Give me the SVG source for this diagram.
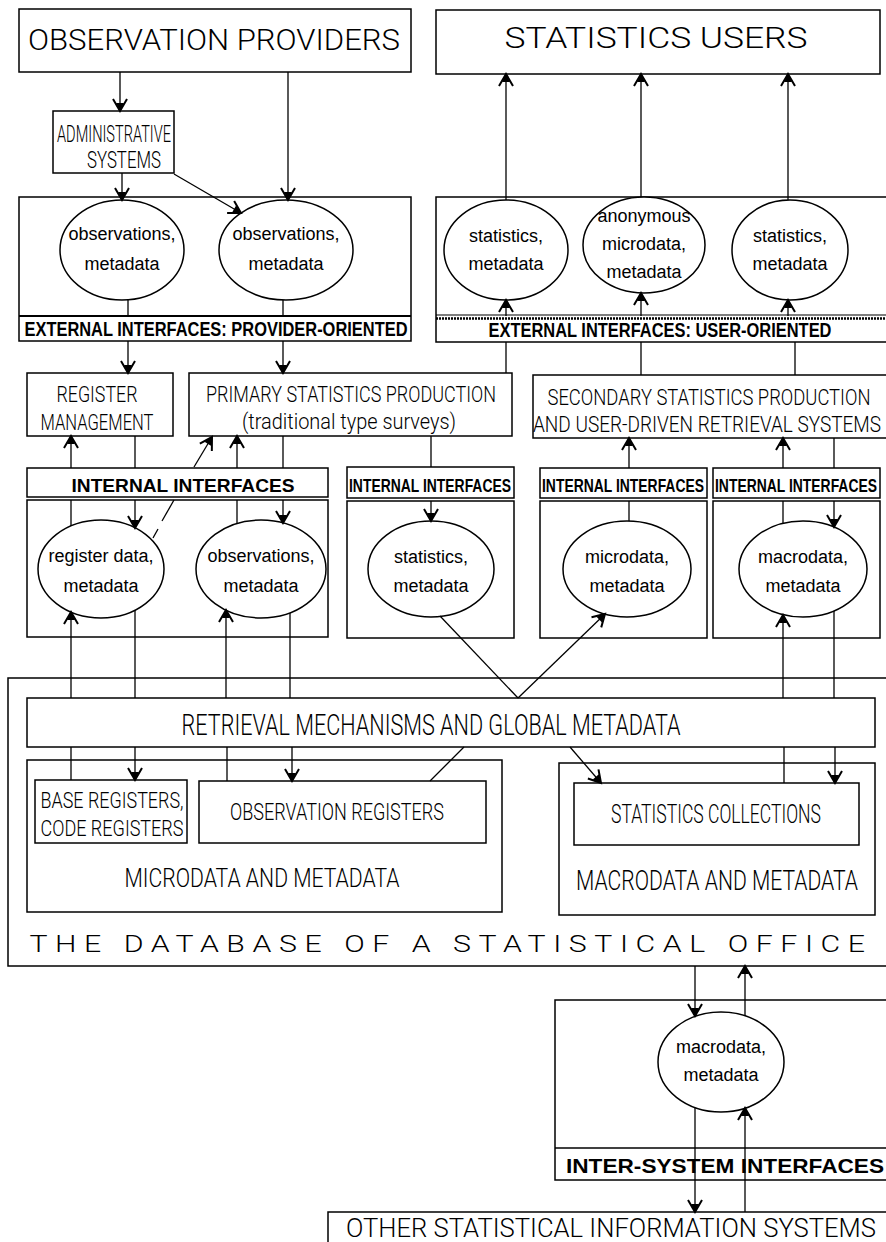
<svg xmlns="http://www.w3.org/2000/svg" width="886" height="1242" viewBox="0 0 886 1242">
<defs>
<style>
.b{fill:#fff;stroke:#000;stroke-width:1.5}
.f{fill:none;stroke:#000;stroke-width:1.5}
.c{fill:none;stroke:#000;stroke-width:1.3}
.t{font-family:Roboto,"Liberation Sans",sans-serif;font-weight:300;fill:#000;text-anchor:middle}
.s{font-family:"Liberation Sans",Arial,sans-serif;font-weight:bold;fill:#000;text-anchor:middle}
.e{font-family:"Liberation Sans",Arial,sans-serif;font-size:18px;fill:#000;text-anchor:middle}
</style>
<marker id="a" viewBox="-14 -9 16 18" refX="0" refY="0" markerWidth="16" markerHeight="18" markerUnits="userSpaceOnUse" orient="auto" overflow="visible">
<path d="M-12,-7 L0,0 L-12,7" fill="none" stroke="#000" stroke-width="2"/>
<path d="M-8,-4 L0,0 L-8,4 Z" fill="#000"/>
</marker>
</defs>
<rect width="886" height="1242" fill="#fff"/>

<g id="observation-providers">
<rect class="b" x="19" y="9" width="392" height="63"/>
<text class="t" x="214" y="50" font-size="30" textLength="372" lengthAdjust="spacingAndGlyphs">OBSERVATION PROVIDERS</text>
</g>
<g id="statistics-users">
<rect class="b" x="436" y="10" width="444" height="64"/>
<text class="t" x="656" y="48" font-size="29" textLength="303" lengthAdjust="spacingAndGlyphs">STATISTICS USERS</text>
</g>
<g id="administrative-systems">
<rect class="b" x="53" y="111" width="121" height="62"/>
<text class="t" x="114" y="142" font-size="23" textLength="114" lengthAdjust="spacingAndGlyphs">ADMINISTRATIVE</text>
<text class="t" x="124" y="168" font-size="23" textLength="74" lengthAdjust="spacingAndGlyphs">SYSTEMS</text>
</g>

<g id="provider-interfaces">
<rect class="f" x="19" y="197" width="392" height="144"/>
<line x1="19" y1="316" x2="411" y2="316" stroke="#000" stroke-width="2.2"/>
<text class="s" x="216" y="336" font-size="20" textLength="383" lengthAdjust="spacingAndGlyphs">EXTERNAL INTERFACES: PROVIDER-ORIENTED</text>
<ellipse class="b" cx="122" cy="250" rx="62" ry="50"/>
<text class="e" x="122" y="240">observations,</text>
<text class="e" x="122" y="270">metadata</text>
<ellipse class="b" cx="286" cy="250" rx="67" ry="50"/>
<text class="e" x="286" y="240">observations,</text>
<text class="e" x="286" y="270">metadata</text>
</g>

<g id="user-interfaces">
<path class="f" d="M890,197 H436 V342 H890"/>
<line x1="436" y1="315" x2="890" y2="315" stroke="#000" stroke-width="1.2"/>
<line x1="436" y1="318.5" x2="890" y2="318.5" stroke="#000" stroke-width="2.5" stroke-dasharray="2,1"/>
<text class="s" x="660" y="337" font-size="20" textLength="343" lengthAdjust="spacingAndGlyphs">EXTERNAL INTERFACES: USER-ORIENTED</text>
<ellipse class="b" cx="506" cy="250" rx="62" ry="50"/>
<text class="e" x="506" y="242">statistics,</text>
<text class="e" x="506" y="270">metadata</text>
<ellipse class="b" cx="644" cy="245" rx="61" ry="48"/>
<text class="e" x="644" y="222">anonymous</text>
<text class="e" x="644" y="250">microdata,</text>
<text class="e" x="644" y="278">metadata</text>
<ellipse class="b" cx="790" cy="250" rx="58" ry="50"/>
<text class="e" x="790" y="242">statistics,</text>
<text class="e" x="790" y="270">metadata</text>
</g>

<g id="register-management">
<rect class="b" x="27" y="373" width="146" height="63"/>
<text class="t" x="97" y="402" font-size="22" textLength="81" lengthAdjust="spacingAndGlyphs">REGISTER</text>
<text class="t" x="97" y="430" font-size="22" textLength="113" lengthAdjust="spacingAndGlyphs">MANAGEMENT</text>
</g>
<g id="primary-statistics-production">
<rect class="b" x="189" y="373" width="323" height="63"/>
<text class="t" x="351" y="402" font-size="22" textLength="290" lengthAdjust="spacingAndGlyphs">PRIMARY STATISTICS PRODUCTION</text>
<text class="t" x="349" y="429" font-size="22" textLength="214" lengthAdjust="spacingAndGlyphs">(traditional type surveys)</text>
</g>
<g id="secondary-statistics-production">
<rect class="b" x="533" y="375" width="360" height="63"/>
<text class="t" x="709" y="405" font-size="22" textLength="323" lengthAdjust="spacingAndGlyphs">SECONDARY STATISTICS PRODUCTION</text>
<text class="t" x="707" y="432" font-size="22" textLength="348" lengthAdjust="spacingAndGlyphs">AND USER-DRIVEN RETRIEVAL SYSTEMS</text>
</g>

<g id="internal-interfaces-left">
<rect class="b" x="27" y="468" width="301" height="29"/>
<text class="s" x="183" y="492" font-size="19" textLength="223" lengthAdjust="spacingAndGlyphs">INTERNAL INTERFACES</text>
<rect class="f" x="27" y="500" width="301" height="137"/>
<ellipse class="b" cx="101" cy="569" rx="63" ry="49"/>
<text class="e" x="101" y="562">register data,</text>
<text class="e" x="101" y="592">metadata</text>
<ellipse class="b" cx="261" cy="569" rx="65" ry="49"/>
<text class="e" x="261" y="562">observations,</text>
<text class="e" x="261" y="592">metadata</text>
</g>
<g id="internal-interfaces-statistics">
<rect class="b" x="347" y="467" width="167" height="31"/>
<text class="s" x="430" y="492" font-size="18" textLength="162" lengthAdjust="spacingAndGlyphs">INTERNAL INTERFACES</text>
<rect class="f" x="347" y="501" width="167" height="137"/>
<ellipse class="b" cx="431" cy="569" rx="63" ry="48"/>
<text class="e" x="431" y="563">statistics,</text>
<text class="e" x="431" y="592">metadata</text>
</g>
<g id="internal-interfaces-microdata">
<rect class="b" x="540" y="468" width="167" height="30"/>
<text class="s" x="623" y="492" font-size="18" textLength="162" lengthAdjust="spacingAndGlyphs">INTERNAL INTERFACES</text>
<rect class="f" x="540" y="501" width="167" height="137"/>
<ellipse class="b" cx="627" cy="569" rx="64" ry="48"/>
<text class="e" x="627" y="563">microdata,</text>
<text class="e" x="627" y="592">metadata</text>
</g>
<g id="internal-interfaces-macrodata">
<rect class="b" x="713" y="468" width="167" height="30"/>
<text class="s" x="796" y="492" font-size="18" textLength="162" lengthAdjust="spacingAndGlyphs">INTERNAL INTERFACES</text>
<rect class="f" x="713" y="501" width="167" height="137"/>
<ellipse class="b" cx="803" cy="569" rx="64" ry="48"/>
<text class="e" x="803" y="563">macrodata,</text>
<text class="e" x="803" y="592">metadata</text>
</g>

<g id="database">
<rect class="f" x="8" y="678" width="890" height="288"/>
<text class="t" x="451" y="952" font-size="24" letter-spacing="6" textLength="843" lengthAdjust="spacingAndGlyphs">THE DATABASE OF A STATISTICAL OFFICE</text>
</g>
<g id="retrieval-mechanisms">
<rect class="b" x="27" y="698" width="848" height="49"/>
<text class="t" x="431" y="735" font-size="29" textLength="499" lengthAdjust="spacingAndGlyphs">RETRIEVAL MECHANISMS AND GLOBAL METADATA</text>
</g>
<g id="microdata-and-metadata">
<rect class="f" x="27" y="760" width="475" height="152"/>
<text class="t" x="262" y="887" font-size="26" textLength="275" lengthAdjust="spacingAndGlyphs">MICRODATA AND METADATA</text>
</g>
<g id="base-registers">
<rect class="b" x="35" y="780" width="152" height="63"/>
<text class="t" x="112" y="808" font-size="22" textLength="143" lengthAdjust="spacingAndGlyphs">BASE REGISTERS,</text>
<text class="t" x="112" y="836" font-size="22" textLength="143" lengthAdjust="spacingAndGlyphs">CODE REGISTERS</text>
</g>
<g id="observation-registers">
<rect class="b" x="199" y="781" width="287" height="62"/>
<text class="t" x="337" y="820" font-size="24" textLength="214" lengthAdjust="spacingAndGlyphs">OBSERVATION REGISTERS</text>
</g>
<g id="macrodata-and-metadata">
<rect class="f" x="559" y="763" width="316" height="152"/>
<text class="t" x="717" y="890" font-size="27" textLength="282" lengthAdjust="spacingAndGlyphs">MACRODATA AND METADATA</text>
</g>
<g id="statistics-collections">
<rect class="b" x="574" y="783" width="285" height="62"/>
<text class="t" x="716" y="823" font-size="25" textLength="210" lengthAdjust="spacingAndGlyphs">STATISTICS COLLECTIONS</text>
</g>

<g id="inter-system-interfaces">
<rect class="f" x="555" y="1000" width="340" height="180"/>
<line x1="555" y1="1148" x2="890" y2="1148" stroke="#000" stroke-width="1.5"/>
<text class="s" x="725" y="1173" font-size="20" textLength="318" lengthAdjust="spacingAndGlyphs">INTER-SYSTEM INTERFACES</text>
<ellipse class="b" cx="721" cy="1062" rx="63" ry="50"/>
<text class="e" x="721" y="1053">macrodata,</text>
<text class="e" x="721" y="1081">metadata</text>
</g>
<g id="other-systems">
<rect class="b" x="328" y="1212" width="570" height="40"/>
<text class="t" x="611" y="1237" font-size="25" textLength="530" lengthAdjust="spacingAndGlyphs">OTHER STATISTICAL INFORMATION SYSTEMS</text>
</g>

<g id="connectors" class="c">
<line x1="120" y1="72" x2="120" y2="111" marker-end="url(#a)"/>
<line x1="288" y1="72" x2="288" y2="200" marker-end="url(#a)"/>
<line x1="122" y1="173" x2="122" y2="200" marker-end="url(#a)"/>
<line x1="174" y1="174" x2="241" y2="213" marker-end="url(#a)"/>
<line x1="506" y1="200" x2="506" y2="74" marker-end="url(#a)"/>
<line x1="641" y1="197" x2="641" y2="74" marker-end="url(#a)"/>
<line x1="788" y1="200" x2="788" y2="74" marker-end="url(#a)"/>
<line x1="506" y1="316" x2="506" y2="300" marker-end="url(#a)"/>
<line x1="641" y1="316" x2="641" y2="293" marker-end="url(#a)"/>
<line x1="788" y1="316" x2="788" y2="300" marker-end="url(#a)"/>
<line x1="128" y1="300" x2="128" y2="316"/>
<line x1="283" y1="300" x2="283" y2="316"/>
<line x1="128" y1="341" x2="128" y2="373" marker-end="url(#a)"/>
<line x1="283" y1="341" x2="283" y2="373" marker-end="url(#a)"/>
<line x1="506" y1="342" x2="506" y2="373"/>
<line x1="641" y1="342" x2="641" y2="375"/>
<line x1="795" y1="342" x2="795" y2="375"/>
<line x1="71" y1="468" x2="71" y2="436" marker-end="url(#a)"/>
<line x1="135" y1="436" x2="135" y2="468"/>
<line x1="194" y1="467" x2="212" y2="437" marker-end="url(#a)"/>
<line x1="237" y1="468" x2="237" y2="436" marker-end="url(#a)"/>
<line x1="283" y1="436" x2="283" y2="468"/>
<line x1="71" y1="500" x2="71" y2="526"/>
<line x1="135" y1="500" x2="135" y2="528" marker-end="url(#a)"/>
<line x1="174" y1="500" x2="162" y2="521"/>
<line x1="158" y1="529" x2="153" y2="538"/>
<line x1="237" y1="500" x2="237" y2="523"/>
<line x1="283" y1="500" x2="283" y2="523" marker-end="url(#a)"/>
<line x1="431" y1="436" x2="431" y2="467"/>
<line x1="431" y1="501" x2="431" y2="521" marker-end="url(#a)"/>
<line x1="629" y1="468" x2="629" y2="438" marker-end="url(#a)"/>
<line x1="629" y1="501" x2="629" y2="521"/>
<line x1="783" y1="468" x2="783" y2="438" marker-end="url(#a)"/>
<line x1="834" y1="438" x2="834" y2="468"/>
<line x1="783" y1="501" x2="783" y2="523"/>
<line x1="834" y1="501" x2="834" y2="527" marker-end="url(#a)"/>
<line x1="71" y1="698" x2="71" y2="612" marker-end="url(#a)"/>
<line x1="135" y1="610" x2="135" y2="698"/>
<line x1="226" y1="698" x2="226" y2="610" marker-end="url(#a)"/>
<line x1="290" y1="613" x2="290" y2="698"/>
<line x1="440" y1="616" x2="518" y2="698"/>
<line x1="518" y1="698" x2="605" y2="614" marker-end="url(#a)"/>
<line x1="783" y1="698" x2="783" y2="615" marker-end="url(#a)"/>
<line x1="834" y1="611" x2="834" y2="698"/>
<line x1="71" y1="747" x2="71" y2="780"/>
<line x1="135" y1="747" x2="135" y2="780" marker-end="url(#a)"/>
<line x1="227" y1="747" x2="227" y2="781"/>
<line x1="292" y1="747" x2="292" y2="781" marker-end="url(#a)"/>
<line x1="464" y1="747" x2="430" y2="781"/>
<line x1="570" y1="747" x2="601" y2="783" marker-end="url(#a)"/>
<line x1="784" y1="747" x2="784" y2="783"/>
<line x1="835" y1="747" x2="835" y2="783" marker-end="url(#a)"/>
<line x1="695" y1="966" x2="695" y2="1016" marker-end="url(#a)"/>
<line x1="745" y1="1016" x2="745" y2="966" marker-end="url(#a)"/>
<line x1="695" y1="1108" x2="695" y2="1212" marker-end="url(#a)"/>
<line x1="745" y1="1212" x2="745" y2="1108" marker-end="url(#a)"/>
</g>
</svg>
